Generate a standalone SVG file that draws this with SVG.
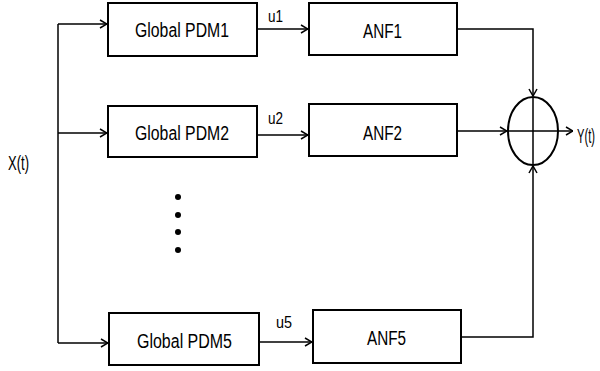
<svg xmlns="http://www.w3.org/2000/svg" width="600" height="371" viewBox="0 0 600 371">
<defs>
<marker id="arr" viewBox="0 0 10 10" refX="10" refY="5" markerWidth="10" markerHeight="10" markerUnits="userSpaceOnUse" orient="auto">
<path d="M3,1 L10,5 L3,9" fill="none" stroke="#000" stroke-width="1.5"/>
</marker>
<style>
.box{fill:#fff;stroke:#000;stroke-width:2}
.ln{fill:none;stroke:#000;stroke-width:1.5}
.t{font-family:"Liberation Sans Narrow","Liberation Sans",Arial,sans-serif;font-size:20px;fill:#000}
.s{font-family:"Liberation Sans Narrow","Liberation Sans",Arial,sans-serif;font-size:16px;fill:#000}
</style>
</defs>
<rect width="600" height="371" fill="#fff"/>
<g id="connectors">
<path class="ln" d="M58,24 V343"/>
<path class="ln" d="M58,24 H107" marker-end="url(#arr)"/>
<path class="ln" d="M58,133 H107" marker-end="url(#arr)"/>
<path class="ln" d="M58,343 H108" marker-end="url(#arr)"/>
<path class="ln" d="M257,29 H308" marker-end="url(#arr)"/>
<path class="ln" d="M257,135 H308" marker-end="url(#arr)"/>
<path class="ln" d="M259,342 H312" marker-end="url(#arr)"/>
<path class="ln" d="M457,29 H533 V96" marker-end="url(#arr)"/>
<path class="ln" d="M457,131 H507" marker-end="url(#arr)"/>
<path class="ln" d="M461,337 H533 V166" marker-end="url(#arr)"/>
<path class="ln" d="M558,131 H573" marker-end="url(#arr)"/>
<text class="s" x="268" y="22" textLength="15" lengthAdjust="spacingAndGlyphs">u1</text>
<text class="s" x="268" y="124" textLength="15" lengthAdjust="spacingAndGlyphs">u2</text>
<text class="s" x="276" y="328" textLength="16" lengthAdjust="spacingAndGlyphs">u5</text>
</g>
<g id="input">
<text class="t" x="8" y="170" textLength="21" lengthAdjust="spacingAndGlyphs">X(t)</text>
</g>
<g id="pdm1">
<rect class="box" x="108" y="3" width="149" height="53"/>
<text class="t" x="135" y="37" textLength="94" lengthAdjust="spacingAndGlyphs">Global PDM1</text>
</g>
<g id="pdm2">
<rect class="box" x="108" y="106" width="149" height="51"/>
<text class="t" x="135" y="140" textLength="94" lengthAdjust="spacingAndGlyphs">Global PDM2</text>
</g>
<g id="pdm5">
<rect class="box" x="109" y="313" width="150" height="52"/>
<text class="t" x="137" y="348" textLength="95" lengthAdjust="spacingAndGlyphs">Global PDM5</text>
</g>
<g id="anf1">
<rect class="box" x="309" y="3" width="148" height="52"/>
<text class="t" x="363" y="38" textLength="39" lengthAdjust="spacingAndGlyphs">ANF1</text>
</g>
<g id="anf2">
<rect class="box" x="309" y="104" width="148" height="52"/>
<text class="t" x="363" y="140" textLength="39" lengthAdjust="spacingAndGlyphs">ANF2</text>
</g>
<g id="anf5">
<rect class="box" x="313" y="310" width="148" height="53"/>
<text class="t" x="367" y="345" textLength="39" lengthAdjust="spacingAndGlyphs">ANF5</text>
</g>
<g id="dots">
<circle cx="178" cy="197" r="3"/>
<circle cx="178" cy="215" r="3"/>
<circle cx="178" cy="232" r="3"/>
<circle cx="178" cy="250" r="3"/>
</g>
<g id="sum">
<ellipse cx="533" cy="131" rx="25" ry="34" fill="none" stroke="#000" stroke-width="2"/>
<path class="ln" d="M533,97 V165 M508,131 H558"/>
</g>
<g id="output">
<text class="t" x="595" y="143" text-anchor="end" textLength="18" lengthAdjust="spacingAndGlyphs">Y(t)</text>
</g>
</svg>
